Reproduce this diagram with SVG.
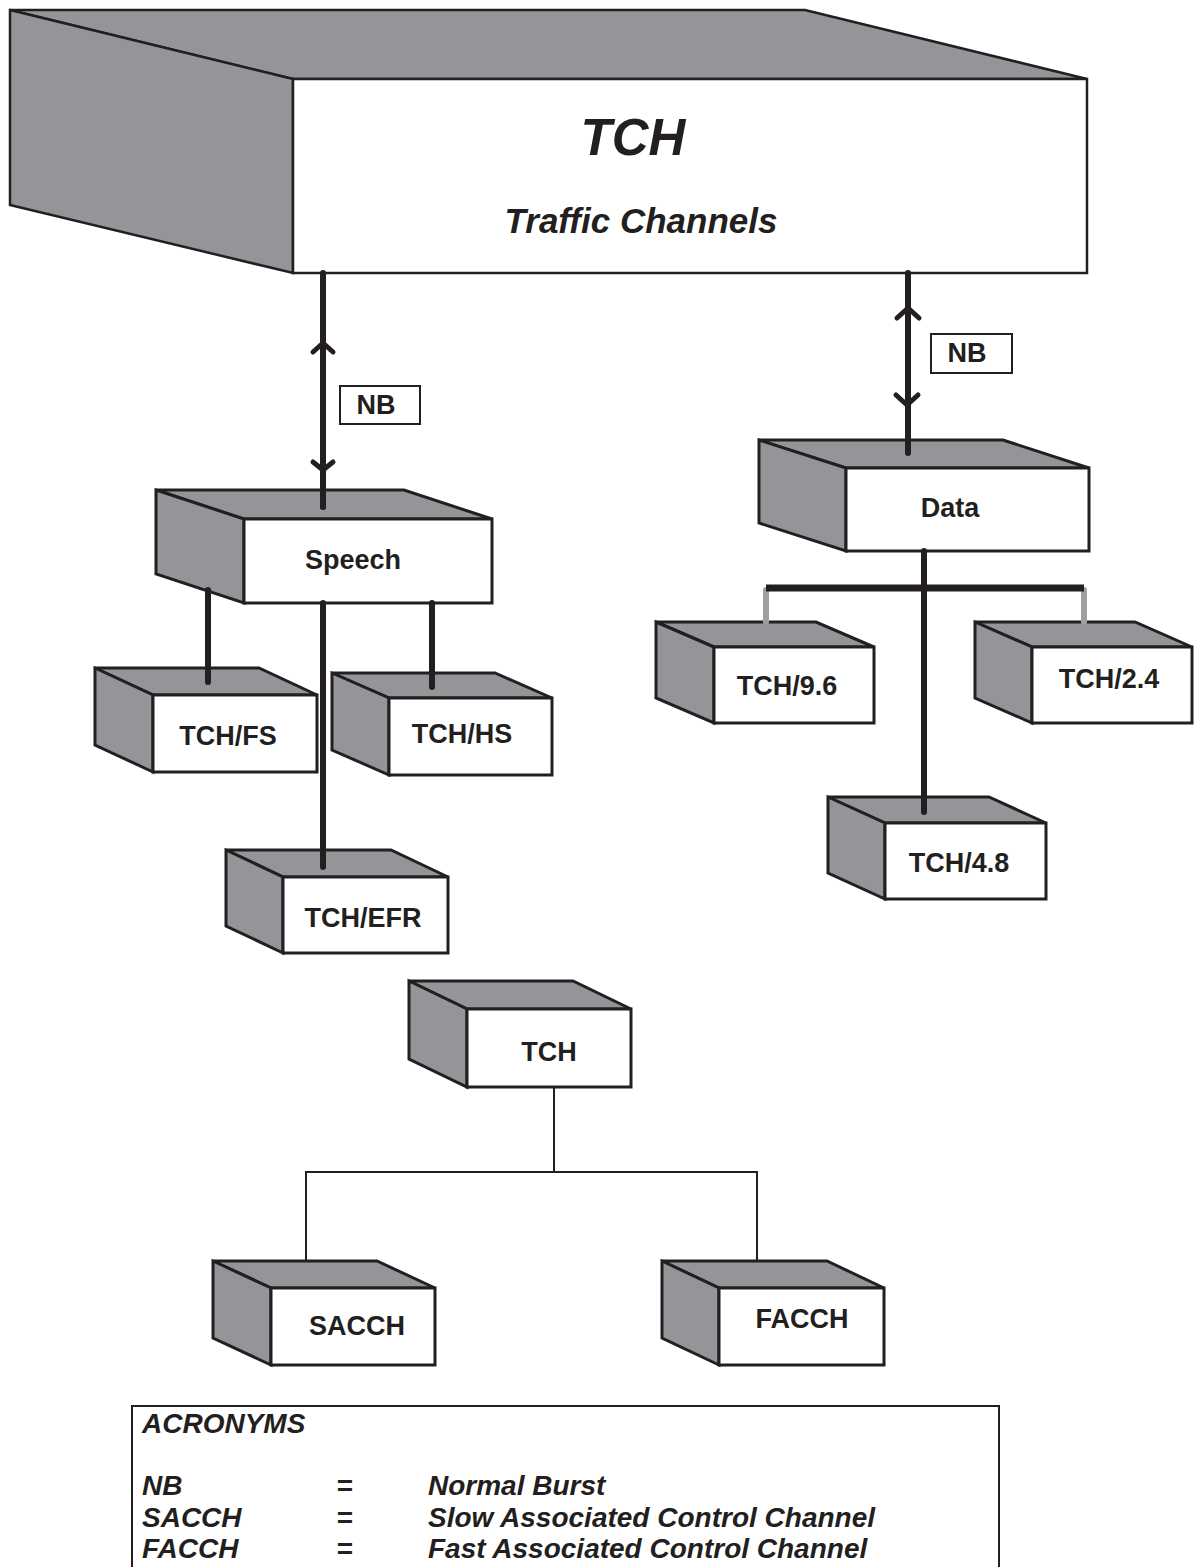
<svg xmlns="http://www.w3.org/2000/svg" width="1204" height="1567" viewBox="0 0 1204 1567">
<style>
.face{fill:#939598;stroke:#231f20;stroke-width:3;stroke-linejoin:miter}
.front{fill:#ffffff;stroke:#231f20;stroke-width:3}
.big .face,.big .front{stroke-width:2.5}
.lbl{font-family:"Liberation Sans",Arial,sans-serif;font-weight:bold;font-size:27px;fill:#231f20;text-anchor:middle}
.ital{font-family:"Liberation Sans",Arial,sans-serif;font-weight:bold;font-style:italic;fill:#231f20}
.thick{stroke:#231f20;stroke-width:6;fill:none;stroke-linecap:round}
.chev{stroke:#231f20;stroke-width:5;fill:none;stroke-linecap:round;stroke-linejoin:round}
.gray{stroke:#9d9fa2;stroke-width:6;fill:none;stroke-linecap:round}
.thin{stroke:#231f20;stroke-width:2;fill:none}
.nb{fill:#ffffff;stroke:#231f20;stroke-width:2}
</style>
<rect width="1204" height="1567" fill="#ffffff"/>
<g id="nodes">
<g id="tch-main" class="big">
<polygon class="face" points="10,10 805,10 1087,79 293,79"/>
<polygon class="face" points="10,10 293,79 293,273 10,205"/>
<rect class="front" x="293" y="79" width="794" height="194"/>
<text class="ital" x="633" y="155" font-size="51" text-anchor="middle">TCH</text>
<text class="ital" x="641" y="233" font-size="35" text-anchor="middle">Traffic Channels</text>
</g>
<g id="speech">
<polygon class="face" points="156,490 404,490 492,519 244,519"/>
<polygon class="face" points="156,490 244,519 244,603 156,574"/>
<rect class="front" x="244" y="519" width="248" height="84"/>
<text class="lbl" x="353" y="569">Speech</text>
</g>
<g id="data">
<polygon class="face" points="759,440 1003,440 1089,468 846,468"/>
<polygon class="face" points="759,440 846,468 846,551 759,523"/>
<rect class="front" x="846" y="468" width="243" height="83"/>
<text class="lbl" x="950" y="517">Data</text>
</g>
<g id="tch-fs">
<polygon class="face" points="95,668 259,668 317,695 153,695"/>
<polygon class="face" points="95,668 153,695 153,772 95,745"/>
<rect class="front" x="153" y="695" width="164" height="77"/>
<text class="lbl" x="228" y="745">TCH/FS</text>
</g>
<g id="tch-hs">
<polygon class="face" points="332,673 495,673 552,698 389,698"/>
<polygon class="face" points="332,673 389,698 389,775 332,750"/>
<rect class="front" x="389" y="698" width="163" height="77"/>
<text class="lbl" x="462" y="743">TCH/HS</text>
</g>
<g id="tch-efr">
<polygon class="face" points="226,850 391,850 448,877 283,877"/>
<polygon class="face" points="226,850 283,877 283,953 226,926"/>
<rect class="front" x="283" y="877" width="165" height="76"/>
<text class="lbl" x="363" y="927">TCH/EFR</text>
</g>
<g id="tch-9-6">
<polygon class="face" points="656,622 816,622 874,647 714,647"/>
<polygon class="face" points="656,622 714,647 714,723 656,698"/>
<rect class="front" x="714" y="647" width="160" height="76"/>
<text class="lbl" x="787" y="695">TCH/9.6</text>
</g>
<g id="tch-2-4">
<polygon class="face" points="975,622 1135,622 1192,647 1032,647"/>
<polygon class="face" points="975,622 1032,647 1032,723 975,698"/>
<rect class="front" x="1032" y="647" width="160" height="76"/>
<text class="lbl" x="1109" y="688">TCH/2.4</text>
</g>
<g id="tch-4-8">
<polygon class="face" points="828,797 989,797 1046,823 885,823"/>
<polygon class="face" points="828,797 885,823 885,899 828,873"/>
<rect class="front" x="885" y="823" width="161" height="76"/>
<text class="lbl" x="959" y="872">TCH/4.8</text>
</g>
<g id="tch-sub">
<polygon class="face" points="409,981 573,981 631,1009 467,1009"/>
<polygon class="face" points="409,981 467,1009 467,1087 409,1059"/>
<rect class="front" x="467" y="1009" width="164" height="78"/>
<text class="lbl" x="549" y="1061">TCH</text>
</g>
<g id="sacch">
<polygon class="face" points="213,1261 377,1261 435,1288 271,1288"/>
<polygon class="face" points="213,1261 271,1288 271,1365 213,1338"/>
<rect class="front" x="271" y="1288" width="164" height="77"/>
<text class="lbl" x="357" y="1335">SACCH</text>
</g>
<g id="facch">
<polygon class="face" points="662,1261 827,1261 884,1288 719,1288"/>
<polygon class="face" points="662,1261 719,1288 719,1365 662,1338"/>
<rect class="front" x="719" y="1288" width="165" height="77"/>
<text class="lbl" x="802" y="1328">FACCH</text>
</g>
</g>
<g id="connectors">
<line class="thick" x1="323" y1="273" x2="323" y2="507" stroke-linecap="butt"/>
<line class="thick" x1="323" y1="505" x2="323" y2="507"/>
<polyline class="chev" points="313,352 323,343 333,352"/>
<polyline class="chev" points="313,462 323,470 333,462"/>
<line class="thick" x1="908" y1="273" x2="908" y2="453"/>
<polyline class="chev" points="897,318 908,308 919,318"/>
<polyline class="chev" points="896,395 907,405 918,395"/>
<line class="thick" x1="208" y1="590" x2="208" y2="682"/>
<line class="thick" x1="323" y1="603" x2="323" y2="867"/>
<line class="thick" x1="432" y1="603" x2="432" y2="687"/>
<line class="gray" x1="766" y1="590" x2="766" y2="622"/>
<line class="gray" x1="1084" y1="590" x2="1084" y2="622"/>
<line x1="766" y1="588" x2="1084" y2="588" stroke="#231f20" stroke-width="7"/>
<line class="thick" x1="924" y1="551" x2="924" y2="812"/>
<polyline class="thin" points="554,1087 554,1172"/>
<polyline class="thin" points="306,1261 306,1172 757,1172 757,1261"/>
</g>
<g id="nb-labels">
<rect class="nb" x="340" y="386" width="80" height="38"/>
<text class="lbl" x="376" y="414">NB</text>
<rect class="nb" x="931" y="334" width="81" height="39"/>
<text class="lbl" x="967" y="362">NB</text>
</g>
<g id="legend">
<rect x="132" y="1406" width="867" height="200" fill="none" stroke="#231f20" stroke-width="2"/>
<g class="ital" font-size="28">
<text x="142" y="1433">ACRONYMS</text>
<text x="142" y="1495">NB</text>
<text x="142" y="1527">SACCH</text>
<text x="142" y="1558">FACCH</text>
<text x="345" y="1495" text-anchor="middle" font-style="normal">=</text>
<text x="345" y="1527" text-anchor="middle" font-style="normal">=</text>
<text x="345" y="1558" text-anchor="middle" font-style="normal">=</text>
<text x="428" y="1495">Normal Burst</text>
<text x="428" y="1527">Slow Associated Control Channel</text>
<text x="428" y="1558">Fast Associated Control Channel</text>
</g>
</g>
</svg>
